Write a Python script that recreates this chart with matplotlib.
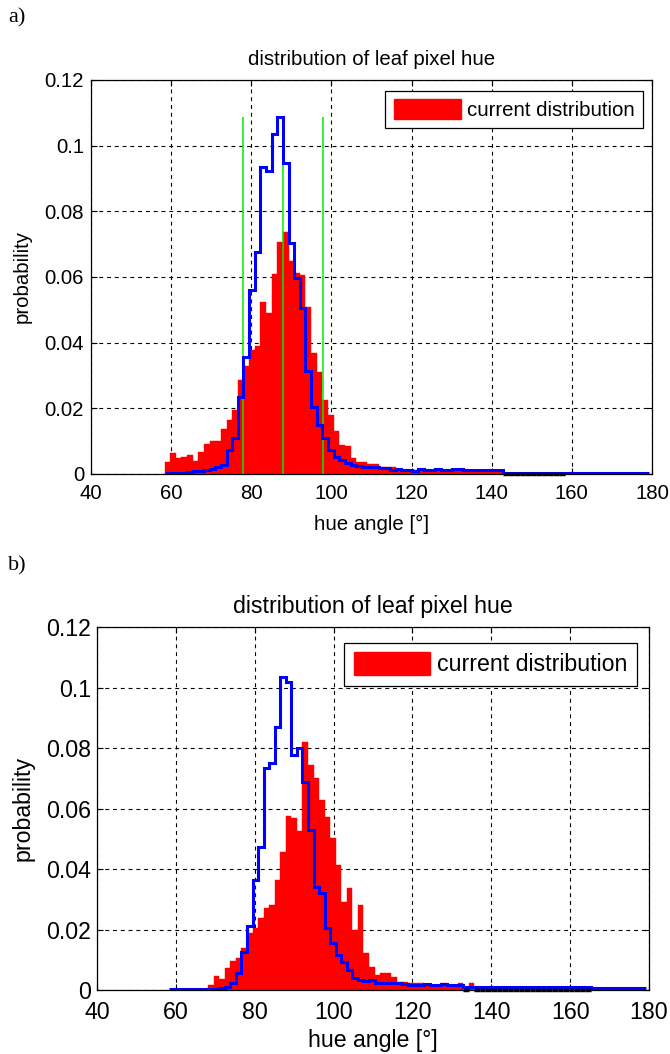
import numpy as np
import matplotlib
matplotlib.use("Agg")
import matplotlib.pyplot as plt
from matplotlib.patches import Patch

plt.rcParams['font.family'] = ['Liberation Sans', 'DejaVu Sans']

# hue is quantised to 256 levels -> bin width in degrees
BIN_WIDTH = 360 / 256

# ---- panel a) ----
a_red_first_bin = 42
a_red = [0.0035, 0.0065, 0.0050, 0.0053, 0.0058, 0.0040, 0.0068, 0.0091, 0.0100, 0.0101,
         0.0136, 0.0165, 0.0195, 0.0285, 0.0330, 0.0378, 0.0390, 0.0525, 0.0490, 0.0610,
         0.0708, 0.0738, 0.0650, 0.0612, 0.0605, 0.0510, 0.0368, 0.0312, 0.0225, 0.0180,
         0.0130, 0.0088, 0.0085, 0.0050, 0.0038, 0.0036, 0.0030, 0.0031, 0.0022, 0.0020,
         0.0020, 0.0013, 0.0012, 0.0010, 0.0012, 0.0010, 0.0010, 0.0012, 0.0010, 0.0010,
         0.0012, 0.0010, 0.0010, 0.0011, 0.0010, 0.0010, 0.0010, 0.0009, 0.0010, 0.0010,
         0, 0, 0, 0, 0, 0, 0, 0, 0, 0, 0]
a_blue_first_bin = 42
a_blue = [0.0002, 0.0003, 0.0003, 0.0004, 0.0007, 0.0008, 0.0010, 0.0012, 0.0014, 0.0020,
          0.0027, 0.0073, 0.0109, 0.0236, 0.0357, 0.0560, 0.0677, 0.0936, 0.0923, 0.1035,
          0.1088, 0.0946, 0.0703, 0.0596, 0.0505, 0.0315, 0.0205, 0.0149, 0.0109, 0.0073,
          0.0053, 0.0043, 0.0032, 0.0027, 0.0024, 0.0022, 0.0022, 0.0020, 0.0018, 0.0017,
          0.0012, 0.0014, 0.0011, 0.0013, 0.0010, 0.0014, 0.0012, 0.0011, 0.0015, 0.0013,
          0.0011, 0.0015, 0.0014, 0.0011, 0.0011, 0.0011, 0.0011, 0.0011, 0.0011, 0.0011,
          0.0004, 0.0004, 0.0004, 0.0004, 0.0004, 0.0004, 0.0004, 0.0004, 0.0004, 0.0004,
          0.0004, 0.0004, 0.0004, 0.0004, 0.0004, 0.0004, 0.0004, 0.0004, 0.0004, 0.0004,
          0.0004, 0.0004, 0.0004, 0.0004, 0.0004, 0.0004]
a_markers = [78, 88, 98]

# ---- panel b) ----
b_red_first_bin = 49
b_red = [0.0018, 0.0046, 0.0035, 0.0072, 0.0095, 0.0105, 0.0140, 0.0187, 0.0204, 0.0237,
         0.0270, 0.0280, 0.0364, 0.0457, 0.0575, 0.0570, 0.0527, 0.0821, 0.0744, 0.0700,
         0.0628, 0.0573, 0.0501, 0.0413, 0.0292, 0.0336, 0.0198, 0.0280, 0.0121, 0.0077,
         0.0050, 0.0055, 0.0055, 0.0044, 0.0028, 0.0028, 0.0022, 0.0024, 0.0024, 0.0017,
         0.0017, 0.0017, 0.0022, 0.0017, 0.0017, 0.0022, 0.0, 0.0024,
         0, 0, 0, 0, 0, 0, 0, 0, 0, 0, 0, 0, 0, 0, 0, 0, 0, 0, 0, 0, 0]
b_blue_first_bin = 42
b_blue = [0.0002, 0.0002, 0.0002, 0.0002, 0.0002, 0.0002, 0.0003, 0.0004, 0.0005, 0.0006,
          0.0011, 0.0022, 0.0055, 0.0127, 0.0210, 0.0364, 0.0474, 0.0733, 0.0750, 0.0870,
          0.1034, 0.1018, 0.0777, 0.0799, 0.0689, 0.0529, 0.0342, 0.0320, 0.0204, 0.0154,
          0.0116, 0.0094, 0.0066, 0.0040, 0.0033, 0.0030, 0.0033, 0.0024, 0.0024, 0.0024,
          0.0024, 0.0024, 0.0020, 0.0017, 0.0017, 0.0017, 0.0019, 0.0017, 0.0017, 0.0019,
          0.0017, 0.0017, 0.0017,
          0.0011, 0.0011, 0.0011, 0.0011, 0.0011, 0.0011, 0.0011, 0.0011, 0.0011, 0.0011,
          0.0011, 0.0011, 0.0011, 0.0011, 0.0011, 0.0011, 0.0011, 0.0011, 0.0011, 0.0011,
          0.0011, 0.0011, 0.0011,
          0.0006, 0.0006, 0.0006, 0.0006, 0.0006, 0.0006, 0.0006, 0.0006, 0.0006, 0.0006]
b_markers = []

title = "distribution of leaf pixel hue"
xlabel = "hue angle [°]"
ylabel = "probability"
legend_label = "current distribution"
xticks = [40, 60, 80, 100, 120, 140, 160, 180]
yticks = [0, 0.02, 0.04, 0.06, 0.08, 0.1, 0.12]
ytick_labels = ["0", "0.02", "0.04", "0.06", "0.08", "0.1", "0.12"]
panel_letters = ["a)", "b)"]


def draw(ax, red_first, red, blue_first, blue, markers, fs, leg_anchor,
         xpad, ypad, xlpad, ylpad, tpad):
    red = np.asarray(red, dtype=float)
    blue = np.asarray(blue, dtype=float)
    centers = (red_first + np.arange(len(red))) * BIN_WIDTH
    nz = red > 0
    ax.bar(centers[nz], red[nz], width=BIN_WIDTH, color='#ff0000',
           edgecolor='#ff0000', linewidth=0.3, zorder=2)
    # empty bins of the current distribution (drawn as black edges on the baseline)
    ax.hlines(np.zeros((~nz).sum()), centers[~nz] - BIN_WIDTH / 2,
              centers[~nz] + BIN_WIDTH / 2, color='black', lw=2.5,
              clip_on=False, zorder=5)
    edges = (blue_first + np.arange(len(blue) + 1) - 0.5) * BIN_WIDTH
    ax.stairs(blue, edges, baseline=None, color='#0000ff', lw=2.2, zorder=4)
    if len(markers):
        ax.vlines(markers, 0, blue.max(), color='#00ee00', lw=1.1, zorder=3)

    ax.set_xlim(40, 180)
    ax.set_ylim(0, 0.12)
    ax.set_xticks(xticks)
    ax.set_xticklabels([str(t) for t in xticks])
    ax.set_yticks(yticks)
    ax.set_yticklabels(ytick_labels)
    ax.set_axisbelow(True)
    ax.grid(True, color='black', linestyle=(0, (3.5, 3.5)), lw=0.8)
    ax.tick_params(direction='in', top=True, right=True, length=4, width=0.8,
                   labelsize=fs)
    ax.tick_params(axis='x', pad=xpad)
    ax.tick_params(axis='y', pad=ypad)
    for s in ax.spines.values():
        s.set_linewidth(0.9)
        s.set_color('black')
    ax.set_title(title, fontsize=fs, pad=tpad)
    ax.set_xlabel(xlabel, fontsize=fs, labelpad=xlpad)
    ax.set_ylabel(ylabel, fontsize=fs, labelpad=ylpad)
    leg = ax.legend([Patch(facecolor='#ff0000', edgecolor='#ff0000')], [legend_label],
                    loc='upper right', bbox_to_anchor=leg_anchor, fontsize=fs,
                    frameon=True, fancybox=False, framealpha=1, edgecolor='black',
                    handlelength=3.3, handleheight=1.1, handletextpad=0.3,
                    borderpad=0.4, borderaxespad=0)
    leg.get_frame().set_linewidth(0.9)
    leg.set_zorder(10)


fig = plt.figure(figsize=(6.7, 10.54), dpi=100)
ax_a = fig.add_axes([0.1358, 0.5503, 0.8373, 0.3738])
ax_b = fig.add_axes([0.1448, 0.0607, 0.8239, 0.3444])

draw(ax_a, a_red_first_bin, a_red, a_blue_first_bin, a_blue, a_markers, 14.7,
     (0.984, 0.972), xpad=7.5, ypad=5, xlpad=8, ylpad=9, tpad=11)
draw(ax_b, b_red_first_bin, b_red, b_blue_first_bin, b_blue, b_markers, 16.7,
     (0.978, 0.956), xpad=8, ypad=4.5, xlpad=3.5, ylpad=8, tpad=10)

fig.text(0.012, 1 - 18 / 1054, panel_letters[0], family='Liberation Serif',
         fontsize=16, va='center', ha='left')
fig.text(0.012, 1 - 566 / 1054, panel_letters[1], family='Liberation Serif',
         fontsize=16, va='center', ha='left')

fig.savefig("out.png", dpi=100)
